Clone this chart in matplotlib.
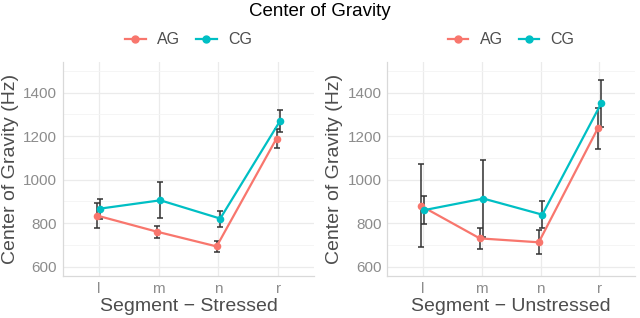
import matplotlib
matplotlib.use("Agg")
import matplotlib.pyplot as plt
from matplotlib.lines import Line2D
import numpy as np

plt.rcParams['font.family'] = ['Liberation Sans', 'DejaVu Sans']

segments = ["l", "m", "n", "r"]
groups = ["AG", "CG"]
colors = {"AG": "#F8766D", "CG": "#00BFC4"}

# stressed
stressed_mean = {"AG": [835, 761, 693, 1189], "CG": [867, 905, 821, 1270]}
stressed_err = {"AG": [57, 28, 25, 43], "CG": [46, 83, 37, 51]}
# unstressed
unstressed_mean = {"AG": [880, 730, 712, 1235], "CG": [860, 913, 839, 1351]}
unstressed_err = {"AG": [190, 49, 56, 95], "CG": [66, 176, 63, 108]}

panels = [
    ("Segment \u2212 Stressed", stressed_mean, stressed_err, [0.098, 0.132, 0.393, 0.674]),
    ("Segment \u2212 Unstressed", unstressed_mean, unstressed_err, [0.605, 0.132, 0.387, 0.674]),
]

fig = plt.figure(figsize=(6.4, 3.18), dpi=100)
fig.text(0.5, 0.965, "Center of Gravity", ha="center", va="center", fontsize=13.5, color="black")

x = np.arange(1, len(segments) + 1)
dodge = {"AG": -0.03, "CG": 0.03}

for xlabel, means, errs, rect in panels:
    ax = fig.add_axes(rect)
    for g in groups:
        xs = x + dodge[g]
        ax.plot(xs, means[g], color=colors[g], lw=1.6, zorder=3)
        ax.errorbar(xs, means[g], yerr=errs[g], fmt="none", ecolor="#333333",
                    elinewidth=1.1, capsize=2.5, capthick=1.1, zorder=2)
        ax.scatter(xs, means[g], color=colors[g], s=30, zorder=4, linewidths=0)
    ax.set_xlim(0.4, 4.6)
    ax.set_ylim(557, 1542)
    ax.set_xticks(x)
    ax.set_xticklabels(segments)
    ax.set_yticks([600, 800, 1000, 1200, 1400])
    ax.set_yticks([700, 900, 1100, 1300, 1500], minor=True)
    ax.grid(True, which="major", color="#EBEBEB", lw=0.9)
    ax.grid(True, which="minor", axis="y", color="#F4F4F4", lw=0.6)
    ax.set_axisbelow(True)
    for s in ["top", "right"]:
        ax.spines[s].set_visible(False)
    for s in ["left", "bottom"]:
        ax.spines[s].set_color("#D9D9D9")
        ax.spines[s].set_linewidth(0.9)
    ax.tick_params(which="both", length=0, labelsize=11, labelcolor="#8C8C8C", pad=4)
    ax.set_xlabel(xlabel, fontsize=14, color="#4D4D4D", labelpad=2)
    ax.set_ylabel("Center of Gravity (Hz)", fontsize=14, color="#4D4D4D", labelpad=3)
    handles = [Line2D([0], [0], color=colors[g], lw=1.6, marker="o", markersize=5) for g in groups]
    ax.legend(handles, groups, loc="lower center", bbox_to_anchor=(0.5, 1.0), ncol=2,
              frameon=False, fontsize=11.5, handlelength=1.3, handletextpad=0.7,
              columnspacing=1.0, labelcolor="#4D4D4D")

fig.savefig("out.png", dpi=100)
